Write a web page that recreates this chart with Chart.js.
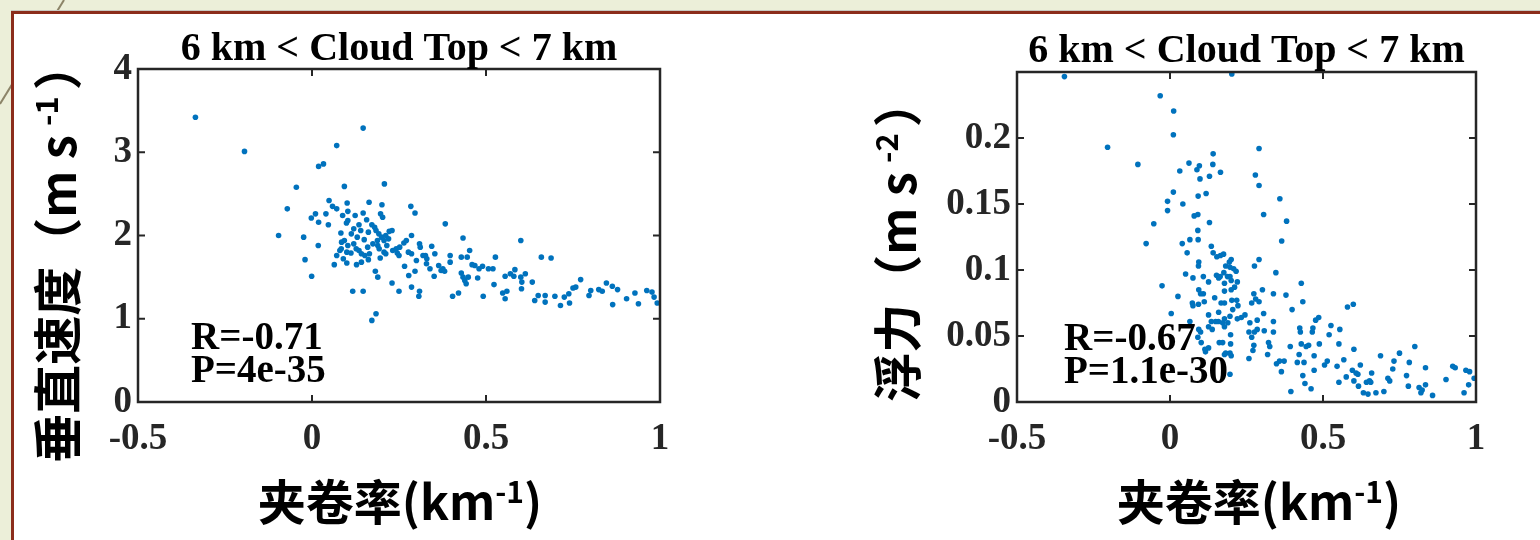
<!DOCTYPE html>
<html>
<head>
<meta charset="utf-8">
<script src="https://cdn.jsdelivr.net/npm/chart.js@4.4.1/dist/chart.umd.min.js"></script>
<style>
  html, body { margin: 0; padding: 0; }
  body { width: 1540px; height: 540px; overflow: hidden; background: #ecefd9; position: relative; }
  #deco { position: absolute; left: 0; top: 0; }
  #panel { position: absolute; left: 11px; top: 11px; right: 0; bottom: 0; background: #fff;
           border-left: 3px solid #8b2d1b; border-top: 3px solid #8b2d1b; box-shadow: 0 -1px 0 #c8c8c0; }
  canvas.plot { position: absolute; left: 0; top: 0; }
</style>
</head>
<body>
<svg id="deco" width="120" height="140"><line x1="0" y1="104" x2="64" y2="0" stroke="#8c8468" stroke-width="2"/></svg>
<div id="panel"></div>
<canvas id="left" class="plot" width="1540" height="540"></canvas>
<canvas id="right" class="plot" width="1540" height="540"></canvas>
<script>
// Two MATLAB-style scatter panels: entrainment rate vs vertical velocity / buoyancy.

const W = 1540, H = 540;
const TITLE = "6 km < Cloud Top < 7 km";
const X_TICKS = [-0.5, 0, 0.5, 1];
const VEL_TICKS = [0, 1, 2, 3, 4];
const BUOY_TICKS = [0, 0.05, 0.1, 0.15, 0.2];

// left panel: entrainment rate (km-1) and vertical velocity (m s-1)
const velEntr = [
  -0.335, -0.194, 0.147, 0.071, 0.019, 0.033, -0.045, 0.093, 0.208, -0.071,
  -0.096, -0.024, -0.020, -0.001, 0.018, -0.002, 0.010, 0.019, 0.040, 0.047,
  0.049, 0.059, 0.071, 0.088, 0.101, 0.103, 0.124, 0.147, 0.164, 0.201,
  0.197, 0.203, 0.284, 0.296, 0.383, 0.434, 0.600, 0.659, 0.687, 0.083,
  0.099, 0.103, 0.113, 0.135, 0.140, 0.157, 0.162, 0.172, 0.180, 0.184,
  0.192, 0.200, 0.207, 0.212, 0.222, 0.230, 0.085, 0.093, 0.103, 0.120,
  0.080, 0.100, 0.112, 0.127, 0.135, 0.142, 0.071, 0.084, 0.152, 0.162,
  0.165, 0.188, 0.189, 0.193, 0.207, 0.212, 0.196, 0.232, 0.242, 0.252,
  0.264, 0.271, 0.286, 0.277, 0.286, 0.309, 0.311, 0.344, 0.353, 0.326,
  0.319, 0.064, 0.100, 0.128, 0.142, 0.117, 0.147, 0.182, 0.189, 0.230,
  0.250, 0.184, 0.172, 0.266, 0.278, 0.296, 0.286, 0.309, 0.307, 0.329,
  0.339, 0.351, 0.364, 0.371, 0.381, 0.376, 0.397, 0.397, 0.429, 0.446,
  0.453, 0.404, 0.421, 0.429, 0.434, 0.439, 0.443, 0.449, 0.476, 0.460,
  0.468, 0.480, 0.490, 0.507, 0.520, 0.527, 0.523, 0.492, 0.548, 0.560,
  0.555, 0.555, 0.570, 0.583, 0.580, 0.600, 0.603, 0.602, 0.613, 0.633,
  0.640, 0.650, 0.670, 0.670, 0.698, 0.714, 0.725, 0.738, 0.740, 0.750,
  0.758, 0.772, 0.796, 0.801, 0.824, 0.834, 0.846, 0.863, 0.878, 0.864,
  0.904, 0.928, 0.938, 0.962, 0.977, 0.983, 0.992, 0.120, 0.150, 0.175,
  0.215, 0.245, 0.160, 0.130, 0.220, 0.090, 0.300, 0.250, 0.330,
];
const velocity = [
  3.42, 3.01, 3.29, 3.08, 2.83, 2.86, 2.58, 2.59, 2.62, 2.32,
  2.00, 1.98, 1.71, 1.51, 1.88, 2.21, 2.26, 2.16, 2.26, 2.13,
  2.42, 2.35, 2.32, 2.24, 2.39, 2.29, 2.24, 2.27, 2.40, 2.37,
  2.26, 2.22, 2.35, 2.27, 2.14, 1.97, 1.94, 1.74, 1.73, 2.03,
  2.15, 2.18, 2.02, 2.13, 2.06, 2.19, 2.04, 2.13, 2.10, 2.06,
  2.02, 1.98, 1.94, 2.00, 2.05, 2.06, 1.92, 1.94, 1.88, 1.90,
  1.82, 1.80, 1.79, 1.84, 1.82, 1.78, 1.76, 1.84, 1.76, 1.71,
  1.78, 1.94, 1.88, 1.84, 1.80, 1.78, 1.73, 1.82, 1.84, 1.86,
  1.91, 1.94, 2.00, 1.80, 1.78, 1.90, 1.86, 1.87, 1.78, 1.76,
  1.76, 1.65, 1.67, 1.65, 1.68, 1.33, 1.33, 1.57, 1.50, 1.43,
  1.33, 1.06, 0.98, 1.63, 1.52, 1.57, 1.38, 1.33, 1.27, 1.66,
  1.60, 1.51, 1.64, 1.58, 1.57, 1.60, 1.68, 1.76, 1.74, 1.74,
  1.82, 1.27, 1.31, 1.55, 1.50, 1.46, 1.42, 1.50, 1.49, 1.65,
  1.64, 1.60, 1.63, 1.60, 1.60, 1.74, 1.41, 1.27, 1.31, 1.33,
  1.24, 1.51, 1.54, 1.59, 1.51, 1.50, 1.44, 1.36, 1.54, 1.44,
  1.22, 1.28, 1.28, 1.20, 1.27, 1.16, 1.26, 1.30, 1.19, 1.37,
  1.38, 1.47, 1.28, 1.34, 1.35, 1.33, 1.43, 1.39, 1.35, 1.17,
  1.24, 1.31, 1.18, 1.34, 1.32, 1.26, 1.19, 2.08, 1.95, 1.90,
  1.88, 1.79, 1.86, 1.98, 1.96, 1.72, 1.70, 1.76, 1.72,
];

// right panel: entrainment rate (km-1) and buoyancy (m s-2)
const buoyEntr = [
  -0.345, 0.202, -0.032, 0.012, 0.011, -0.204, 0.291, -0.105, 0.062, 0.032,
  0.088, 0.096, 0.098, 0.141, 0.140, 0.129, 0.165, 0.279, 0.291, 0.011,
  -0.008, -0.008, 0.042, 0.092, 0.118, 0.079, 0.091, -0.053, 0.306, 0.359,
  0.381, 0.129, 0.091, 0.092, 0.065, -0.078, 0.040, 0.056, 0.135, 0.141,
  0.153, 0.165, 0.175, 0.365, 0.200, 0.194, 0.196, 0.216, 0.220, 0.291,
  0.276, 0.093, 0.109, 0.126, 0.051, 0.075, 0.176, 0.188, 0.196, 0.178,
  0.200, 0.211, 0.346, -0.026, 0.152, 0.159, 0.164, 0.094, 0.109, 0.100,
  0.178, 0.200, 0.274, 0.302, 0.280, 0.338, 0.379, 0.429, 0.434, 0.026,
  0.146, 0.073, 0.075, 0.093, 0.112, 0.167, 0.178, 0.202, 0.218, 0.222,
  0.267, 0.291, 0.580, 0.599, 0.004, 0.399, 0.126, 0.159, 0.205, 0.178,
  0.172, 0.189, 0.196, 0.220, 0.233, 0.245, 0.065, 0.135, 0.149, 0.158,
  0.306, 0.338, 0.261, 0.285, 0.126, 0.138, 0.178, 0.476, 0.486, 0.526,
  0.424, 0.467, 0.465, 0.094, 0.100, 0.258, 0.267, 0.276, 0.285, 0.308,
  0.338, 0.198, 0.555, 0.520, 0.426, 0.091, 0.102, 0.161, 0.172, 0.198,
  0.274, 0.322, 0.326, 0.393, 0.429, 0.445, 0.453, 0.488, 0.552, 0.114,
  0.126, 0.116, 0.196, 0.182, 0.271, 0.601, 0.800, 0.319, 0.258, 0.178,
  0.200, 0.422, 0.471, 0.688, 0.750, 0.348, 0.358, 0.373, 0.416, 0.438,
  0.514, 0.568, 0.732, 0.782, 0.505, 0.546, 0.622, 0.835, 0.924, 0.932,
  0.967, 0.979, 0.471, 0.728, 0.364, 0.196, 0.434, 0.596, 0.608, 0.614,
  0.659, 0.576, 0.712, 0.718, 0.773, 0.902, 0.994, 0.552, 0.601, 0.616,
  0.642, 0.652, 0.656, 0.441, 0.779, 0.835, 0.976, 0.461, 0.395, 0.814,
  0.820, 0.824, 0.632, 0.647, 0.673, 0.699, 0.858, 0.961, 0.094, 0.182, 0.208,
];
const buoyancy = [
  0.2465, 0.2485, 0.232, 0.2205, 0.2025, 0.193, 0.192, 0.180, 0.181, 0.175,
  0.176, 0.179, 0.169, 0.188, 0.180, 0.171, 0.174, 0.172, 0.164, 0.159,
  0.152, 0.145, 0.150, 0.156, 0.158, 0.141, 0.142, 0.135, 0.142, 0.154,
  0.137, 0.136, 0.130, 0.123, 0.123, 0.120, 0.120, 0.113, 0.118, 0.113,
  0.110, 0.111, 0.112, 0.122, 0.108, 0.106, 0.102, 0.099, 0.091, 0.108,
  0.103, 0.103, 0.095, 0.091, 0.097, 0.094, 0.098, 0.095, 0.095, 0.090,
  0.092, 0.087, 0.098, 0.088, 0.096, 0.094, 0.095, 0.085, 0.082, 0.082,
  0.084, 0.085, 0.082, 0.085, 0.078, 0.082, 0.081, 0.090, 0.076, 0.080,
  0.079, 0.075, 0.073, 0.074, 0.076, 0.075, 0.075, 0.077, 0.077, 0.073,
  0.075, 0.076, 0.072, 0.074, 0.067, 0.070, 0.066, 0.068, 0.070, 0.063,
  0.060, 0.060, 0.065, 0.063, 0.064, 0.066, 0.061, 0.061, 0.061, 0.061,
  0.067, 0.061, 0.060, 0.062, 0.057, 0.055, 0.057, 0.062, 0.064, 0.058,
  0.056, 0.056, 0.053, 0.055, 0.053, 0.053, 0.049, 0.053, 0.055, 0.054,
  0.053, 0.051, 0.055, 0.051, 0.053, 0.049, 0.045, 0.045, 0.045, 0.044,
  0.043, 0.045, 0.042, 0.042, 0.044, 0.042, 0.043, 0.044, 0.044, 0.040,
  0.041, 0.038, 0.037, 0.037, 0.039, 0.040, 0.042, 0.036, 0.033, 0.036,
  0.035, 0.036, 0.035, 0.035, 0.037, 0.029, 0.031, 0.031, 0.030, 0.030,
  0.031, 0.032, 0.031, 0.030, 0.028, 0.027, 0.028, 0.026, 0.027, 0.026,
  0.024, 0.023, 0.024, 0.025, 0.023, 0.021, 0.020, 0.024, 0.022, 0.021,
  0.022, 0.019, 0.018, 0.016, 0.020, 0.017, 0.018, 0.015, 0.016, 0.012,
  0.015, 0.016, 0.015, 0.014, 0.012, 0.013, 0.013, 0.010, 0.008, 0.011,
  0.007, 0.009, 0.007, 0.006, 0.007, 0.008, 0.005, 0.007, 0.106, 0.103, 0.101,
];

const DOT = "#0072bd";
const AXIS = "#262626";
const SERIF = "'Liberation Serif', 'Times New Roman', serif";
const TICK_FONT = { family: SERIF, weight: "bold", size: 37 };
const CJK = "'Noto Sans CJK SC', sans-serif";

// rich text with a superscript part, centred on (x, y) baseline, optionally rotated
function drawRich(ctx, parts, x, y, angle, size) {
  const main = "bold " + size + "px " + CJK;
  const sup = "bold " + Math.round(size * 0.63) + "px " + CJK;
  const rise = Math.round(size * 0.36);
  ctx.save();
  ctx.translate(x, y);
  ctx.rotate(angle);
  ctx.textAlign = "left";
  ctx.textBaseline = "alphabetic";
  let total = 0;
  const widths = parts.map((p) => {
    ctx.font = p.sup ? sup : main;
    const w = ctx.measureText(p.text).width + (p.gap || 0);
    total += w;
    return w;
  });
  let cur = -total / 2;
  parts.forEach((p, i) => {
    ctx.font = p.sup ? sup : main;
    ctx.fillText(p.text, cur + (p.gap || 0), p.sup ? -rise : 0);
    cur += widths[i];
  });
  ctx.restore();
}

// box, inward ticks on all sides, title, stats and axis titles
const framePlugin = {
  id: "frame",
  afterDraw(chart, args, o) {
    const { ctx, chartArea: a, scales } = chart;
    ctx.save();
    ctx.strokeStyle = AXIS;
    ctx.lineWidth = 2;
    const tl = 7;
    ctx.beginPath();
    for (const t of scales.x.ticks) {
      const px = scales.x.getPixelForValue(t.value);
      ctx.moveTo(px, a.bottom); ctx.lineTo(px, a.bottom - tl);
      ctx.moveTo(px, a.top); ctx.lineTo(px, a.top + tl);
    }
    for (const t of scales.y.ticks) {
      const py = scales.y.getPixelForValue(t.value);
      ctx.moveTo(a.left, py); ctx.lineTo(a.left + tl, py);
      ctx.moveTo(a.right, py); ctx.lineTo(a.right - tl, py);
    }
    ctx.stroke();
    ctx.lineWidth = 2.5;
    ctx.strokeRect(a.left, a.top, a.right - a.left, a.bottom - a.top);

    ctx.fillStyle = "#000";
    ctx.font = "bold 40px " + SERIF;
    ctx.textAlign = "center";
    ctx.textBaseline = "alphabetic";
    ctx.fillText(TITLE, (a.left + a.right) / 2, o.titleY);
    ctx.font = "bold 39px " + SERIF;
    ctx.textAlign = "left";
    o.stats.forEach((s, i) => ctx.fillText(s, o.statsX, o.statsY + i * 33));

    drawRich(ctx, o.xLabel, o.xLabelX, o.xLabelY, 0, 48);
    drawRich(ctx, o.yLabel, o.yLabelX, o.yLabelY, -Math.PI / 2, 49);
    ctx.restore();
  },
};

function makeChart(id, xs, ys, cfg) {
  const points = xs.map((x, i) => ({ x, y: ys[i] }));
  return new Chart(document.getElementById(id), {
    type: "scatter",
    data: {
      datasets: [{ data: points, backgroundColor: DOT, borderWidth: 0, pointRadius: 2.8, clip: false }],
    },
    options: {
      responsive: false,
      animation: false,
      events: [],
      layout: {
        autoPadding: false,
        padding: { left: 0, top: cfg.area.top, right: W - cfg.area.right, bottom: 0 },
      },
      plugins: { legend: { display: false }, tooltip: { enabled: false }, frame: cfg },
      scales: {
        x: {
          type: "linear", min: -0.5, max: 1,
          afterBuildTicks: (s) => { s.ticks = X_TICKS.map((v) => ({ value: v })); },
          afterFit: (s) => { s.height = H - cfg.area.bottom; },
          grid: { display: false, drawTicks: false },
          border: { display: false },
          ticks: { font: TICK_FONT, color: AXIS, padding: 15, maxRotation: 0, autoSkip: false,
                   callback: (v) => String(v) },
        },
        y: {
          type: "linear", min: 0, max: cfg.yMax,
          afterBuildTicks: (s) => { s.ticks = cfg.yTicks.map((v) => ({ value: v })); },
          afterFit: (s) => { s.width = cfg.area.left; },
          grid: { display: false, drawTicks: false },
          border: { display: false },
          ticks: { font: TICK_FONT, color: AXIS, padding: 6, autoSkip: false,
                   callback: (v) => String(+v.toFixed(3)) },
        },
      },
    },
    plugins: [framePlugin],
  });
}

makeChart("left", velEntr, velocity, {
  area: { left: 138, top: 69, right: 660, bottom: 402 },
  yMax: 4, yTicks: VEL_TICKS,
  titleY: 60,
  stats: ["R=-0.71", "P=4e-35"], statsX: 191, statsY: 349,
  xLabel: [{ text: "夹卷率(km" }, { text: "-1", sup: true }, { text: ")" }],
  xLabelX: 400, xLabelY: 520,
  yLabel: [{ text: "垂直速度（m s" }, { text: "-1", sup: true, gap: 9 }, { text: "）", gap: 6 }],
  yLabelX: 76, yLabelY: 252,
});

makeChart("right", buoyEntr, buoyancy, {
  area: { left: 1017, top: 72, right: 1476, bottom: 402 },
  yMax: 0.25, yTicks: BUOY_TICKS,
  titleY: 62,
  stats: ["R=-0.67", "P=1.1e-30"], statsX: 1064, statsY: 350,
  xLabel: [{ text: "夹卷率(km" }, { text: "-1", sup: true }, { text: ")" }],
  xLabelX: 1259, xLabelY: 520,
  yLabel: [{ text: "浮力（m s" }, { text: "-2", sup: true, gap: 9 }, { text: "）", gap: 6 }],
  yLabelX: 916, yLabelY: 240,
});
</script>
</body>
</html>
